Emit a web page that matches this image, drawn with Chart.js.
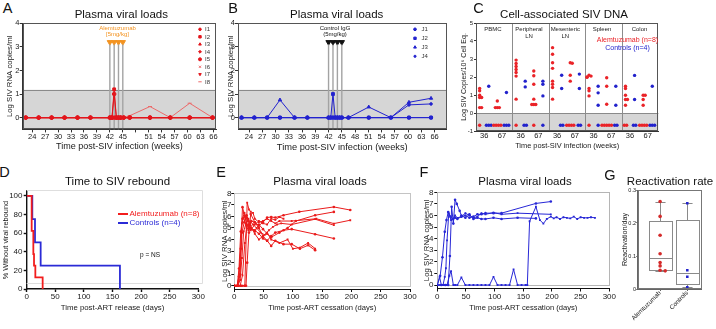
<!DOCTYPE html>
<html><head><meta charset="utf-8">
<script src="https://cdn.jsdelivr.net/npm/chart.js@4.4.1/dist/chart.umd.min.js"></script>
<style>
html,body{margin:0;padding:0;background:#fff;}
#wrap{position:relative;width:716px;height:329px;overflow:hidden;background:#fff;font-family:"Liberation Sans",Arial,Helvetica,sans-serif;}
#wrap canvas{position:absolute;}
.t{position:absolute;white-space:nowrap;line-height:1;color:#1a1a1a;}
</style></head><body><div id="wrap"></div>
<script>
// ---------------- DATA ----------------
// Panel A / B: plasma viral load (log copies/ml) by week post-infection
const weekTicks = [24,27,30,33,36,39,42,45,48,51,54,57,60,63,66];
const weeksA = [22.5,25.5,28.5,31.5,34.5,37.5,42,42.5,43,43.5,44,44.5,45.2,46.6,51.3,56,60.5,65.8];
const vlI1 = [0,0,0,0,0,0,0,0,0,0,0,0,0,0,0,0,0,0];
const vlI2 = [0,0,0,0,0,0,0,0,1.2,0,0,0,0,0,0,0,0,0];
const vlI3 = [0,0,0,0,0,0,0,0,0,0,0,0,0,0,0,0,0,0];
const vlI4 = [0,0,0,0,0,0,0,0,0,0,0,0,0,0,0,0,0,0];
const vlI5 = [0,0,0,0,0,0,0,0,1.0,0,0,0,0,0,0,0,0,0];
const vlI6 = [0,0,0,0,0,0,0,0,0,0,0,0,0,0,0,0,0,0];
const vlI7 = [0,0,0,0,0,0,0,0,0,0,0,0,0,0,0,0,0,0];
const vlI8 = [0,0,0,0,0,0,0,0,0,0,0,0,0,0.08,0.47,0,0.61,0];
const namesA = ['I1','I2','I3','I4','I5','I6','I7','I8'];
const weeksB = [22.3,25.2,28.1,31.0,34.3,37.2,42,42.5,43,43.5,44,44.5,45,46.5,51.1,56.1,60.2,65.2];
const vlJ1 = [0,0,0,0,0,0,0,0,0,0,0,0,0,0,0,0,0,0];
const vlJ2 = [0,0,0,0,0,0,0,0,1.0,0,0,0,0,0,0,0,0,0];
const vlJ3 = [0,0,0,0.75,0,0,0,0,0,0,0,0,0,0,0.45,0,0.65,0.82];
const vlJ4 = [0,0,0,0,0,0,0,0,0,0,0,0,0,0,0,0,0.54,0.58];
const namesB = ['J1','J2','J3','J4'];
const infusionWeeks = [42,43,44,45];
const detectLimit = 1.18;

// Panel C: cell-associated SIV DNA (null = below detection)
const cTissues = ['PBMC','Peripheral|LN','Mesenteric|LN','Spleen','Colon'];
const cTimeLabels = ['36','67'];
const cPbmcAlem36 = [1.36,1.23,0.99,0.86,0.86,0.30,0.30,null];
const cPbmcCtrl36 = [1.49,null,null,null];
const cPbmcAlem67 = [0.67,0.30,0.30,0.30,null,null,null,null];
const cPbmcCtrl67 = [1.14,null,null,null];
const cPlnAlem36 = [2.94,2.75,2.58,2.42,2.25,2.05,0.77,null];
const cPlnCtrl36 = [1.77,1.45,null,null];
const cPlnAlem67 = [2.33,2.07,1.6,0.77,0.47,0.47,0.47,null];
const cPlnCtrl67 = [1.77,1.6,0.95,null];
const cMlnAlem36 = [3.63,3.26,2.79,2.48,1.77,1.6,1.42,0.77];
const cMlnCtrl36 = [2.1,1.36,null,null];
const cMlnAlem67 = [2.79,2.76,2.1,1.77,null,null,null,null];
const cMlnCtrl67 = [2.16,1.36,null,null];
const cSplAlem36 = [2.1,2.05,2.0,1.98,1.36,1.23,0.95,null];
const cSplCtrl36 = [1.49,1.12,0.43,null];
const cSplAlem67 = [1.96,1.49,0.49,null,null,null,null,null];
const cSplCtrl67 = [1.49,0.43,null,null];
const cColAlem36 = [1.49,1.36,0.99,0.75,0.75,0.43,null,null];
const cColCtrl36 = [2.09,0.75,null,null];
const cColAlem67 = [0.99,0.99,0.75,0.43,null,null,null,null];
const cColCtrl67 = [1.49,null,null,null];

// Panel D: Kaplan-Meier, % without rebound
const kmAlemDays = [0,8.7,11.6,12.8,15.1,27.9];
const kmAlemPct  = [100,62.5,37.5,25,12.5,0];
const kmCtrlDays = [0,9.8,14.5,24.4,163];
const kmCtrlPct  = [100,75,50,25,0];
const dayTicks = [0,50,100,150,200,250,300];

// Panel E: alemtuzumab animals after ART cessation
const eDays1=[0,5,8,11,14,18,21,25,29,35,42,49,56,63,70,84,111,170,198];
const eVl1  =[0,0,0.8,3.2,6.8,6.0,5.3,5.0,5.6,5.5,5.2,5.5,5.9,5.95,5.9,6.1,6.4,6.82,6.55];
const eDays2=[0,5,10,14,18,22,25,28,32,35,42,49,56,63,70,77,98,140,170,198];
const eVl2  =[0,0,0,0,0,7.2,6.6,6.4,6.3,5.8,5.5,5.6,5.8,5.6,5.4,5.6,5.6,5.8,5.38,5.67];
const eDays3=[0,5,8,11,14,17,21,25,28,35,42,49,56,63,77,91,105,138,170];
const eVl3  =[0,0,1.5,4.7,5.8,6.3,5.9,5.2,4.9,4.7,5.3,4.9,4.5,4.2,4.6,5.0,5.6,6.1,6.39];
const eDays4=[0,6,10,13,16,20,24,28,32,38,45,52,59,66,73,80,98,138,170];
const eVl4  =[0,0,2.2,5.4,5.9,5.2,4.8,5.5,5.3,5.0,4.6,4.4,4.8,5.1,5.3,5.4,5.3,5.76,5.24];
const eDays5=[0,6,10,13,17,21,24,28,35,42,49,56,63,70,84,98,138,170];
const eVl5  =[0,0,1.0,4.6,5.5,6.1,5.6,5.0,4.8,4.5,4.1,3.9,4.3,4.6,4.8,4.9,4.46,4.09];
const eDays6=[0,6,10,13,16,20,24,28,35,42,49,56,63,77,91,100,112,126,138];
const eVl6  =[0,0,0.5,2.4,4.7,5.4,5.8,5.2,4.5,4.0,4.3,4.6,4.0,3.7,4.0,3.2,3.3,3.7,3.22];
const eDays7=[0,6,12,18,20,22,25,28,35,42,49,56,63,70,84,98,112,126,138];
const eVl7  =[0,0,0,0,0,2.0,4.6,6.2,5.5,5.0,4.3,3.9,3.45,3.9,3.6,3.6,3.2,3.5,3.08];
const eDays8=[0,6,10,14,18,21,24,28,35,42,49,56,63,70,77,84];
const eVl8  =[0,0,0,0.9,3.7,5.0,5.3,4.8,5.3,5.6,5.4,5.3,5.8,5.7,5.95,5.8];

// Panel F: control animals after ART cessation
const fDays1=[0,5,9,13,16,19,23,27,31,35,42,49,56,63,70,77,84,98,112,172,198];
const fVl1  =[0,0.8,2.4,4.6,5.6,6.3,5.9,5.7,5.8,5.7,5.9,6.0,5.8,5.9,6.1,6.1,6.2,6.2,6.2,7.04,7.2];
const fDays2=[0,5,10,13,15,17,20,24,28,31,35,42,49,56,63,70,77,84,98,112,140,198];
const fVl2  =[0,0,0,0.7,1.45,3.85,6.2,5.6,5.7,6.0,5.8,5.9,6.2,6.0,5.8,5.9,6.2,6.1,6.25,6.1,6.2,6.1];
const fDays3=[0,7,14,19,22,25,28,31,34,39,42,49,56,63,70,77,84,98,112,140,172];
const fVl3  =[0,0,0,0,2.5,6.75,5.3,7.35,7.0,6.4,6.0,5.8,6.1,5.7,5.8,5.7,5.7,5.8,5.7,5.8,5.75];
const fDays4=[0,4,7,10,14,17,21,24,28,31,35,42,49,56,63,70,77,84,91,98,105,112,119,126,133,140,147,154,157,161,172,179,185,191,198,203,208,214,220,226,232,238,244,250,256,262,268,275];
const fVl4  =[0,0.7,0,0,0,0,0.8,1.2,0,0,0,0.65,0,0,0,0,0,0,0,0.7,0,0,0,0,1.35,0,0,0,0,5.5,6.75,5.6,5.3,5.7,5.9,5.75,5.85,5.7,5.85,5.8,5.75,5.9,5.7,5.85,5.8,5.8,5.85,5.8];

// Panel G: reactivation rate
const gGroups = ['Alemtuzumab','Controls'];
const gAlemRates = [0.265,0.22,0.163,0.107,0.08,0.07,0.057,0.055];
const gCtrlRates = [0.26,0.057,0.037,0.005];
const gAlemBox = [0.055,0.057,0.095,0.205,0.265]; // min,q1,median,q3,max
const gCtrlBox = [0.005,0.015,0.048,0.21,0.26];

// ---------------- RENDER ----------------
const RED='#e3161c', RED2='#ec6a6a', BLUE='#2323cf', ORANGE='#f39320', FONT='"Liberation Sans", Arial, sans-serif';
Chart.defaults.font.family = FONT;
Chart.defaults.color = '#1a1a1a';
Chart.defaults.animation = false;
Chart.defaults.events = [];
const wrap = document.getElementById('wrap');

function txt(s,x,y,size,color,align){
  const d=document.createElement('div'); d.className='t'; d.textContent=s;
  d.style.fontSize=size+'px'; if(color) d.style.color=color;
  d.style.left=x+'px'; d.style.top=y+'px';
  d.style.transform = align==='l' ? 'translate(0,-50%)' : 'translate(-50%,-50%)';
  wrap.appendChild(d); return d;
}
function xAxis(s,box,plot){
  const tl=s.tl??3, ts=s.ts;
  return {type:'linear',position:'bottom',min:s.min,max:s.max,
    afterBuildTicks:sc=>{sc.ticks=s.ticks.map(v=>({value:v}));},
    ticks:{font:{size:ts,lineHeight:1},color:'#1a1a1a',padding:s.lc-plot[3]-tl-ts/2,autoSkip:false,
      maxRotation:s.rot||0,minRotation:s.rot||0,callback:s.cb||(v=>String(v))},
    grid:{display:true,drawOnChartArea:false,drawTicks:tl>0,tickLength:tl,color:s.gc||'#333',tickWidth:s.bw||1},
    border:{display:true,color:s.gc||'#333',width:s.bw||1},
    title:{display:!!s.title,text:s.title||'',font:{size:s.tsz||8,lineHeight:1},color:'#1a1a1a',
      padding:{top:0,bottom:box[1]+box[3]-(s.tcy||0)-(s.tsz||8)/2}}};
}
function yAxis(s,box,plot){
  const tl=s.tl??3, ts=s.ts;
  return {type:'linear',position:'left',min:s.min,max:s.max,
    afterBuildTicks:sc=>{sc.ticks=s.ticks.map(v=>({value:v}));},
    ticks:{font:{size:ts,lineHeight:1},color:'#1a1a1a',padding:plot[0]-tl-s.lr,autoSkip:false,callback:s.cb||(v=>String(v))},
    grid:{display:true,drawOnChartArea:false,drawTicks:tl>0,tickLength:tl,color:s.gc||'#333',tickWidth:s.bw||1},
    border:{display:true,color:s.gc||'#333',width:s.bw||1},
    title:{display:!!s.title,text:s.title||'',font:{size:s.tsz||8,lineHeight:1},color:'#1a1a1a',
      padding:{top:(s.tcx||0)-box[0]-(s.tsz||8)/2,bottom:0}}};
}
function panel(box,plot,xo,yo,datasets,plugins){
  const c=document.createElement('canvas');
  c.width=box[2]; c.height=box[3]; c.style.left=box[0]+'px'; c.style.top=box[1]+'px';
  wrap.appendChild(c);
  const yw=plot[0]-box[0], xh=box[1]+box[3]-plot[3];
  xo.afterFit=s=>{s.height=xh;}; yo.afterFit=s=>{s.width=yw;};
  return new Chart(c,{type:'scatter',data:{datasets},options:{responsive:false,devicePixelRatio:1,
    layout:{autoPadding:false,padding:{left:0,right:box[0]+box[2]-plot[2],top:plot[1]-box[1],bottom:0}},
    scales:{x:xo,y:yo},plugins:{legend:{display:false},tooltip:{enabled:false}}},plugins:plugins||[]});
}
const bandPlugin=(lo,hi,fill,line)=>({id:'band',beforeDraw(ch){
  const {ctx,chartArea:a,scales:{y}}=ch; const y1=y.getPixelForValue(hi), y0=Math.min(a.bottom,y.getPixelForValue(lo));
  ctx.save(); ctx.fillStyle=fill; ctx.fillRect(a.left,y1,a.right-a.left,y0-y1);
  if(line){ctx.strokeStyle=line;ctx.lineWidth=1;ctx.beginPath();ctx.moveTo(a.left,Math.round(y1)+0.5);ctx.lineTo(a.right,Math.round(y1)+0.5);ctx.stroke();}
  ctx.restore();}});
const framePlugin=(color,w)=>({id:'frame',afterDatasetsDraw(ch){
  const {ctx,chartArea:a}=ch; ctx.save(); ctx.strokeStyle=color; ctx.lineWidth=w||1;
  ctx.strokeRect(Math.round(a.left)+0.5,Math.round(a.top)+0.5,Math.round(a.right-a.left)-1,Math.round(a.bottom-a.top)-1); ctx.restore();}});
const valueRectPlugin=(x0,x1,y0,y1,color)=>({id:'vrect',beforeDatasetsDraw(ch){
  const {ctx,scales:{x,y}}=ch; const L=Math.round(x.getPixelForValue(x0))+0.5,R=Math.round(x.getPixelForValue(x1))+0.5,
  T=Math.round(y.getPixelForValue(y1))+0.5,B=Math.round(y.getPixelForValue(y0))+0.5;
  ctx.save(); ctx.strokeStyle=color; ctx.lineWidth=1; ctx.strokeRect(L,T,R-L,B-T); ctx.restore();}});
function legendMarkers(box,items,x,y0,dy){return {id:'lgm',afterDraw(ch){
  const ctx=ch.ctx; ctx.save();
  items.forEach((it,i)=>{ctx.fillStyle=it.c;ctx.strokeStyle=it.c;ctx.lineWidth=1;
    Chart.helpers.drawPoint(ctx,{pointStyle:it.ps,radius:it.r*0.85,rotation:it.rot||0,borderWidth:1},x-box[0],y0+i*dy-box[1]);});
  ctx.restore();}};}

// ---------- Panel A ----------
const styleA=[{ps:'circle',r:1.5,c:RED},{ps:'rect',r:2.0,c:RED},{ps:'triangle',r:1.8,c:RED},{ps:'rectRot',r:1.7,c:RED},
  {ps:'circle',r:1.8,c:RED},{ps:'crossRot',r:1.8,c:RED2},{ps:'triangle',r:1.7,c:RED,rot:180},{ps:'line',r:2.0,c:RED2}];
function vlPlot(weeks,series,styles,lineColor,arrowColor,box,plot,xopt,yopt,legX,legY,legDy){
  const ds=series.map((v,i)=>({data:weeks.map((w,k)=>({x:w,y:v[k]})),showLine:true,borderColor:styles[i].c,borderWidth:1,
    pointStyle:styles[i].ps,pointRadius:styles[i].r,pointRotation:styles[i].rot||0,pointBackgroundColor:styles[i].c,pointBorderColor:styles[i].c,pointBorderWidth:1}));
  infusionWeeks.forEach(w=>ds.push({data:[{x:w,y:-0.5},{x:w,y:3.1}],showLine:true,borderColor:'#a3a3a3',borderWidth:1.4,pointRadius:0}));
  ds.push({data:infusionWeeks.map(w=>({x:w,y:3.2})),pointStyle:'triangle',pointRotation:180,pointRadius:3.1,pointBackgroundColor:arrowColor,pointBorderColor:arrowColor});
  return panel(box,plot,xAxis(xopt,box,plot),yAxis(yopt,box,plot),ds,
    [bandPlugin(-0.5,detectLimit,'#d6d6d6','#8a8a8a'),framePlugin('#555',1),legendMarkers(box,styles,legX,legY,legDy)]);
}
const boxA=[0,16,236,137], plotA=[22.7,23.3,216,129.4];
vlPlot(weeksA,[vlI1,vlI2,vlI3,vlI4,vlI5,vlI6,vlI7,vlI8],styleA,RED,ORANGE,boxA,plotA,
  {min:21.8,max:66.6,ticks:weekTicks,cb:v=>v===48?'':String(v),ts:7.5,lc:137,title:'Time post-SIV infection (weeks)',tsz:9,tcy:147},
  {min:-0.5,max:4,ticks:[0,1,2,3,4],ts:7.5,lr:19.5,title:'Log SIV RNA copies/ml',tsz:7.8,tcx:10},200,29.3,7.5);
namesA.forEach((n,i)=>txt(n,205,29.3+i*7.5,6,'#333','l'));
txt('Alemtuzumab',117.5,28.3,6,ORANGE); txt('[5mg/kg]',117.5,34.3,6,ORANGE);

// ---------- Panel B ----------
const styleB=[{ps:'circle',r:1.6,c:BLUE},{ps:'rect',r:2.0,c:BLUE},{ps:'triangle',r:1.9,c:BLUE},{ps:'circle',r:1.3,c:BLUE}];
const boxB=[224,16,238,137], plotB=[238,23.3,446.5,129.4];
vlPlot(weeksB,[vlJ1,vlJ2,vlJ3,vlJ4],styleB,BLUE,'#111',boxB,plotB,
  {min:21.5,max:68.7,ticks:weekTicks,ts:7.5,lc:137,title:'Time post-SIV infection (weeks)',tsz:9.3,tcy:147},
  {min:-0.5,max:4,ticks:[0,1,2,3,4],ts:7.5,lr:235,title:'Log SIV RNA copies/ml',tsz:7.8,tcx:230.5},415,29.3,9);
namesB.forEach((n,i)=>txt(n,421.5,29.3+i*9,6,'#333','l'));
txt('Control IgG',335,28.3,6,'#111'); txt('(5mg/kg)',335,34.3,6,'#111');

// ---------- Panel C ----------
const ND_Y=-0.68;
const cSets=[[cPbmcAlem36,cPbmcCtrl36,cPbmcAlem67,cPbmcCtrl67],[cPlnAlem36,cPlnCtrl36,cPlnAlem67,cPlnCtrl67],
  [cMlnAlem36,cMlnCtrl36,cMlnAlem67,cMlnCtrl67],[cSplAlem36,cSplCtrl36,cSplAlem67,cSplCtrl67],[cColAlem36,cColCtrl36,cColAlem67,cColCtrl67]];
function cPoints(vals,center){
  const pts=[]; const nds=vals.filter(v=>v===null).length; let k=0;
  vals.forEach((v,i)=>{
    if(v===null){pts.push({x:center+(k-(nds-1)/2)*0.13,y:ND_Y});k++;}
    else{let n=0;for(let j=0;j<i;j++) if(vals[j]!==null&&Math.abs(vals[j]-v)<0.12) n++;
      pts.push({x:center+[0,0.11,-0.11,0.22,-0.22][n%5],y:v});}
  });
  return pts;
}
const cTickPos=[]; const cLab=[];
const cRed=[], cBlue=[];
cSets.forEach((g,gi)=>{
  const t36=2*gi+0.45, t67=2*gi+1.42;
  cTickPos.push(t36,t67); cLab.push(cTimeLabels[0],cTimeLabels[1]);
  cRed.push(...cPoints(g[0],t36-0.25),...cPoints(g[2],t67-0.25));
  cBlue.push(...cPoints(g[1],t36+0.25),...cPoints(g[3],t67+0.25));
});
const sepPlugin={id:'sep',beforeDatasetsDraw(ch){const {ctx,chartArea:a,scales:{x}}=ch;ctx.save();ctx.strokeStyle='#8c8c8c';ctx.lineWidth=1;
  [2,4,6,8].forEach(v=>{const p=Math.round(x.getPixelForValue(v))+0.5;ctx.beginPath();ctx.moveTo(p,a.top);ctx.lineTo(p,a.bottom);ctx.stroke();});ctx.restore();}};
const boxC=[452,16,264,137], plotC=[476,23,658.3,131];
panel(boxC,plotC,
  xAxis({min:0,max:10,ticks:cTickPos,cb:(v,i)=>cLab[i],ts:7.5,tl:0,lc:135.5,title:'Time post-SIV infection (weeks)',tsz:7.4,tcy:145.5},boxC,plotC),
  yAxis({min:-1,max:5,ticks:[-1,0,1,2,3,4,5],ts:6,tl:2,lr:473,title:'Log SIV Copies/10\u2076 Cell Eq.',tsz:7,tcx:464},boxC,plotC),
  [{data:cRed,pointRadius:1.7,pointBackgroundColor:'#ea2328',pointBorderColor:'#ea2328',pointBorderWidth:0},
   {data:cBlue,pointRadius:1.7,pointBackgroundColor:'#2222cc',pointBorderColor:'#2222cc',pointBorderWidth:0}],
  [bandPlugin(-1,0,'#d6d6d6','#8a8a8a'),sepPlugin,framePlugin('#555',1)]);
const cCenters=[492.9,529,565.3,602,639.5];
cTissues.forEach((n,i)=>{const p=n.split('|'); txt(p[0],cCenters[i],29.3,6,'#222'); if(p[1]) txt(p[1],cCenters[i],36.3,6,'#222');});
txt('Alemtuzumab (n=8)',627.5,38.5,7,'#ea2328'); txt('Controls (n=4)',627.5,47.3,7,'#2222cc');

// ---------- Panel D ----------
const boxD=[0,186,208,143], plotD=[26.7,191,198.3,289];
const dFramePlugin={id:'dframe',beforeDatasetsDraw(ch){const {ctx,scales:{x,y}}=ch;ctx.save();ctx.strokeStyle='#dedede';ctx.lineWidth=1;
  const L=x.getPixelForValue(0),R=Math.round(x.getPixelForValue(307))+0.5,T=Math.round(y.getPixelForValue(106))+0.5,B=Math.round(y.getPixelForValue(6))+0.5;
  ctx.beginPath();ctx.moveTo(L,T);ctx.lineTo(R,T);ctx.lineTo(R,B);ctx.lineTo(L,B);ctx.stroke();ctx.restore();}};
panel(boxD,plotD,
  xAxis({min:0,max:300,ticks:dayTicks,ts:8,lc:296.5,title:'Time post-ART release (days)',tsz:7.8,tcy:307.5,gc:'#111',bw:1.4},boxD,plotD),
  yAxis({min:0,max:105,ticks:[0,20,40,60,80,100],ts:8,lr:22.5,title:'% Without viral rebound',tsz:7.4,tcx:6,gc:'#111',bw:1.4},boxD,plotD),
  [{data:kmAlemDays.map((d,i)=>({x:d,y:kmAlemPct[i]})),showLine:true,stepped:'before',borderColor:'#f21d1d',borderWidth:1.8,pointRadius:0},
   {data:kmCtrlDays.map((d,i)=>({x:d,y:kmCtrlPct[i]})),showLine:true,stepped:'before',borderColor:'#2b2bd6',borderWidth:1.8,pointRadius:0}],
  [dFramePlugin]);
function lineSample(x,y,w,c){const d=document.createElement('div');d.style.cssText=`position:absolute;left:${x}px;top:${y-1}px;width:${w}px;height:2px;background:${c}`;wrap.appendChild(d);}
lineSample(118,214,10,'#f21d1d'); txt('Alemtuzumab (n=8)',129.5,214,8,'#f21d1d','l');
lineSample(118,222.5,10,'#2b2bd6'); txt('Controls (n=4)',129.5,222.5,8,'#2b2bd6','l');
txt('p = NS',150,255,6.5,'#111');

// ---------- Panel E ----------
const boxE=[200,186,218,143], plotE=[234.3,193.3,410,289];
const eSets=[[eDays1,eVl1],[eDays2,eVl2],[eDays3,eVl3],[eDays4,eVl4],[eDays5,eVl5],[eDays6,eVl6],[eDays7,eVl7],[eDays8,eVl8]];
panel(boxE,plotE,
  xAxis({min:0,max:300,ticks:dayTicks,ts:8,lc:296.5,title:'Time post-ART cessation (days)',tsz:7.6,tcy:307.5,gc:'#111'},boxE,plotE),
  yAxis({min:-0.28,max:8,ticks:[0,1,2,3,4,5,6,7,8],ts:8,lr:231.5,title:'Log SIV RNA copies/ml',tsz:7.8,tcx:225,gc:'#111'},boxE,plotE),
  eSets.map((s,i)=>({data:s[0].map((d,k)=>({x:d,y:s[1][k]})),showLine:true,borderColor:'#ea1c1c',borderWidth:1,
    pointStyle:i%2?'rect':'circle',pointRadius:1.3,pointBackgroundColor:'#ea1c1c',pointBorderColor:'#ea1c1c',pointBorderWidth:0})),
  [valueRectPlugin(0,300,0,8,'#c4c4c4')]);

// ---------- Panel F ----------
const boxF=[416,186,202,143], plotF=[437.3,192.3,609.3,288.5];
const fSets=[[fDays1,fVl1],[fDays2,fVl2],[fDays3,fVl3],[fDays4,fVl4]];
panel(boxF,plotF,
  xAxis({min:0,max:300,ticks:dayTicks,ts:8,lc:296.5,title:'Time post-ART cessation (days)',tsz:7.6,tcy:308,gc:'#111'},boxF,plotF),
  yAxis({min:-0.3,max:8,ticks:[0,1,2,3,4,5,6,7,8],ts:8,lr:433.5,title:'Log SIV RNA copies/ml',tsz:7.8,tcx:426.5,gc:'#111'},boxF,plotF),
  fSets.map((s,i)=>({data:s[0].map((d,k)=>({x:d,y:s[1][k]})),showLine:true,borderColor:'#2727d6',borderWidth:1,
    pointStyle:i%2?'rect':'circle',pointRadius:1.3,pointBackgroundColor:'#2727d6',pointBorderColor:'#2727d6',pointBorderWidth:0})),
  [valueRectPlugin(0,300,0,8,'#b5b5b5')]);

// ---------- Panel G ----------
const gPos=[0.35,0.775], gHalf=0.18;
const boxG=[606,186,110,143], plotG=[637.7,190,701.7,289];
const boxPlugin={id:'boxes',beforeDatasetsDraw(ch){const {ctx,scales:{x,y}}=ch;ctx.save();ctx.strokeStyle='#8a8a8a';ctx.lineWidth=1;
  [gAlemBox,gCtrlBox].forEach((b,i)=>{const L=Math.round(x.getPixelForValue(gPos[i]-gHalf))+0.5,R=Math.round(x.getPixelForValue(gPos[i]+gHalf))+0.5,
    C=Math.round(x.getPixelForValue(gPos[i]))+0.5,cw=(R-L)*0.22;
    const py=v=>Math.round(y.getPixelForValue(v))+0.5;
    ctx.strokeRect(L,py(b[3]),R-L,py(b[1])-py(b[3]));
    ctx.beginPath();ctx.moveTo(L,py(b[2]));ctx.lineTo(R,py(b[2]));
    ctx.moveTo(C,py(b[3]));ctx.lineTo(C,py(b[4]));ctx.moveTo(C-cw,py(b[4]));ctx.lineTo(C+cw,py(b[4]));
    ctx.moveTo(C,py(b[1]));ctx.lineTo(C,py(b[0]));ctx.moveTo(C-cw,py(b[0]));ctx.lineTo(C+cw,py(b[0]));ctx.stroke();});
  ctx.restore();}};
function gPts(rates,center){return rates.map((v,i)=>{let n=0;for(let j=0;j<i;j++) if(Math.abs(rates[j]-v)<0.006) n++;return {x:center+[0,0.08,-0.08][n%3],y:v};});}
panel(boxG,plotG,
  xAxis({min:0,max:1,ticks:gPos,cb:(v,i)=>gGroups[i],ts:6.3,tl:2,lc:293,rot:45,gc:'#666'},boxG,plotG),
  yAxis({min:0,max:0.3,ticks:[0,0.1,0.2,0.3],cb:v=>v===0?'0':v.toFixed(1),ts:5.5,tl:1.5,lr:636,title:'Reactivation/day',tsz:7.2,tcx:625,gc:'#666'},boxG,plotG),
  [{data:gPts(gAlemRates,gPos[0]),pointRadius:1.8,pointBackgroundColor:'#d42a2a',pointBorderColor:'#d42a2a',pointBorderWidth:0},
   {data:gPts(gCtrlRates,gPos[1]),pointStyle:'rect',pointRadius:1.8,pointBackgroundColor:'#2222cc',pointBorderColor:'#2222cc',pointBorderWidth:0}],
  [boxPlugin,framePlugin('#777',1)]);

// ---------- Titles & panel letters ----------
[['A',7.5,8],['B',233,8],['C',478.5,8],['D',4.5,172],['E',221,172],['F',424,172],['G',610,175]].forEach(l=>txt(l[0],l[1],l[2],14.5,'#111'));
[['Plasma viral loads',121.3,15],['Plasma viral loads',336.7,15],['Cell-associated SIV DNA',564,15],
 ['Time to SIV rebound',117.5,182],['Plasma viral loads',320,182],['Plasma viral loads',525,182],['Reactivation rate',670,182]]
 .forEach(t=>txt(t[0],t[1],t[2],11.5,'#111'));
</script></body></html>
